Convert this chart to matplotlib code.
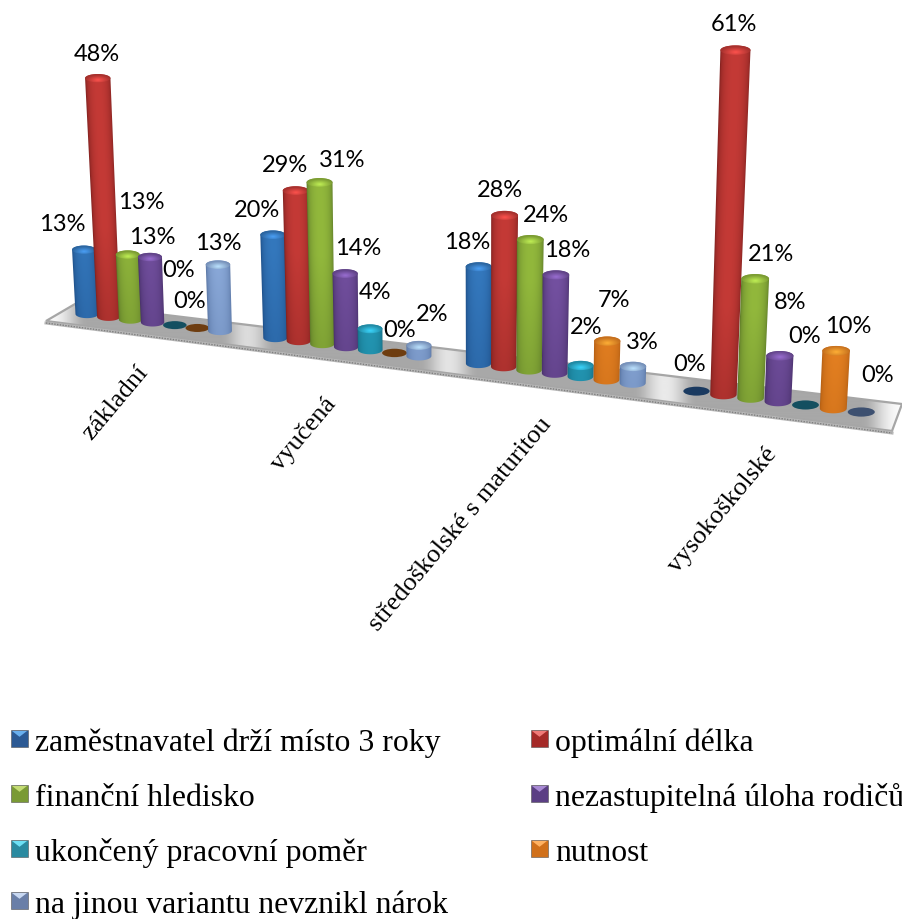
import numpy as np
import matplotlib
matplotlib.use("Agg")
import matplotlib.pyplot as plt
from matplotlib.patches import Polygon, Ellipse, Rectangle

categories = ["základní", "vyučená", "středoškolské s maturitou", "vysokoškolské"]
series_names = ["zaměstnavatel drží místo 3 roky", "optimální délka", "finanční hledisko",
                "nezastupitelná úloha rodičů", "ukončený pracovní poměr", "nutnost",
                "na jinou variantu nevznikl nárok"]

zamestnavatel = [13, 20, 18, 0]
optimalni = [48, 29, 28, 61]
financni = [13, 31, 24, 21]
nezastupitelna = [13, 14, 18, 8]
ukonceny = [0, 4, 2, 0]
nutnost = [0, 0, 7, 10]
jina = [13, 2, 3, 0]
values = [zamestnavatel, optimalni, financni, nezastupitelna, ukonceny, nutnost, jina]

# dark edge, light centre, flat colour for zero bars, legend body, legend highlight
colors = [
    ("#1d4d85", "#3478bd", "#1a3a60", "#2c5a94", "#6ab0ee"),
    ("#7c1f1d", "#c43a36", "#7c1f1d", "#a52a28", "#f07a78"),
    ("#587426", "#92b83c", "#587426", "#7a9a35", "#c4dc74"),
    ("#452e66", "#7350a0", "#452e66", "#5b3f84", "#a88ad4"),
    ("#14697f", "#27a3c2", "#144f60", "#2a8aa0", "#6de0f5"),
    ("#b05c12", "#ea8423", "#6e3d10", "#d0701a", "#ffb262"),
    ("#55719f", "#8eaddd", "#3d5070", "#6a7fa8", "#c8d8f2"),
]

# label offsets from the top of each bar, in pixels, one row per series
label_offsets = [
    [(-22, -26), (-16, -25), (-12, -25), (-7, -28)],
    [(-1, -25), (-11, -26), (-5, -26), (-2, -27)],
    [(14, -53), (23, -23), (16, -25), (16, -25)],
    [(2, -21), (13, -26), (11, -25), (10, -54)],
    [(4, -56), (5, -37), (5, -39), (-1, -69)],
    [(-8, -27), (5, -23), (7, -42), (12, -25)],
    [(0, -22), (13, -32), (9, -25), (16, -38)],
]
cat_label_ends = [(144, 369), (332, 401), (547, 421), (773, 451)]
legend_rows = [741, 796, 851, 903]
legend_cols = [11, 531]

GROUP_STEP = 8.4
W, H = 903, 920


def rgb(c):
    return np.array(matplotlib.colors.to_rgb(c))


def project(cat, ser, val):
    # fake perspective of the 3d chart: floor runs down to the right, bars fan out
    u = cat * GROUP_STEP + ser
    x = 87 + 21.54 * u + 0.105 * u ** 2
    y = 315 + (x - 87) * 0.1266
    r = (23 + 0.13 * u) * 0.5
    h = val * (4.97 + 0.0011 * (x - 109))
    tx = x + (x - 457) * 0.000131 * h
    return x, y, tx, y - h, r


fig = plt.figure(figsize=(W / 100, H / 100), dpi=100)
ax = fig.add_axes([0, 0, 1, 1])

# floor
floor_pts = [(46, 322), (75, 305), (902, 405), (892, 432)]
gx, gy = np.meshgrid(np.arange(40, 906), np.arange(300, 436))
gray = np.ones(gx.shape)
for c in range(4):
    x0 = project(c, 0, 0)[0]
    x1 = project(c, 6, 0)[0]
    d = np.maximum(0, np.maximum(x0 - gx, gx - x1))
    gray -= 0.34 * np.exp(-(d / 22.0) ** 2)
im = ax.imshow(gray, cmap="gray", vmin=0, vmax=1, extent=(40, 906, 436, 300), zorder=1)
floor = Polygon(floor_pts, closed=True, fc="none", ec="#a6a6a6", lw=1.6, zorder=2)
ax.add_patch(floor)
im.set_clip_path(floor)
ax.plot([46, 892], [324, 434], color="#b8b8b8", lw=2.2, zorder=2)
ax.plot([46, 892], [324, 434], color="#7f7f7f", lw=1.0, ls=(0, (1, 1)), zorder=2)


def draw_cylinder(x, y, tx, ty, r, dark, light, order):
    ry = r * 0.36
    rt = r * (1 + (y - ty) * 0.0004)
    pad = 3
    left, right = int(min(x - r, tx - rt)) - pad, int(max(x + r, tx + rt)) + pad
    top, bot = int(ty - ry) - pad, int(y + ry) + pad
    xs, ys = np.meshgrid(np.arange(left, right, 0.5), np.arange(top, bot, 0.5))
    f = np.clip((y - ys) / max(y - ty, 1), 0, 1)
    xc = x + (tx - x) * f
    rr = r + (rt - r) * f
    s = np.clip(1 - ((xs - xc) / rr) ** 2, 0, 1) ** 0.45
    vert = 0.7 + 0.3 * np.clip((y - ys) / 90.0, 0, 1)
    s = s * vert
    img = rgb(dark) + (rgb(light) - rgb(dark)) * s[..., None]

    # body outline with round bottom and top
    ang = np.linspace(0, np.pi, 30)
    bottom = np.c_[x + r * np.cos(ang), y + ry * np.sin(ang)]
    upper = np.c_[tx - rt * np.cos(ang), ty - ry * np.sin(ang)]
    body = Polygon(np.r_[bottom, upper], closed=True, fc="none", ec="none", zorder=order)
    ax.add_patch(body)
    b = ax.imshow(img, extent=(left, right, bot, top), zorder=order, interpolation="bilinear")
    b.set_clip_path(body)

    # cap, brighter towards its lower middle
    capd = np.sqrt(((xs - tx) / rt) ** 2 + ((ys - ty - ry * 0.35) / (ry * 1.2)) ** 2)
    cs = np.clip(1 - capd, 0, 1)
    base = rgb(light) * 0.84
    top_col = np.minimum(rgb(light) * 1.25 + 0.04, 1)
    cap_img = base + (top_col - base) * cs[..., None]
    cap = Ellipse((tx, ty), 2 * rt, 2 * ry, fc="none", ec="none", zorder=order + 0.1)
    ax.add_patch(cap)
    c = ax.imshow(cap_img, extent=(left, right, bot, top), zorder=order + 0.1, interpolation="bilinear")
    c.set_clip_path(cap)


for c in range(len(categories)):
    for s in range(len(series_names)):
        val = values[s][c]
        x, y, tx, ty, r = project(c, s, val)
        order = 3 + c * 7 + s
        if val == 0:
            ax.add_patch(Ellipse((x, y), 2 * r, 2 * r * 0.34, fc=colors[s][2], ec="none", zorder=order))
        else:
            draw_cylinder(x, y, tx, ty, r, colors[s][0], colors[s][1], order)
        dx, dy = label_offsets[s][c]
        ax.text(tx + dx, ty + dy, f"{val}%", fontsize=17, family="Lato", color="black",
                ha="center", va="center", zorder=60)

for name, (ex, ey) in zip(categories, cat_label_ends):
    ax.text(ex, ey, name, fontsize=19, family="Liberation Serif", rotation=50,
            rotation_mode="anchor", ha="right", va="center", zorder=60)

# legend
for i, name in enumerate(series_names):
    col = legend_cols[i % 2]
    row = legend_rows[i // 2]
    key_x, key_y, key = col, row - 10, 17
    body, hi = colors[i][3], colors[i][4]
    ax.add_patch(Rectangle((key_x, key_y), key, key, fc=body, ec="#555555", lw=0.4, zorder=60))
    ax.add_patch(Polygon([(key_x + 1, key_y + 1), (key_x + key - 1, key_y + 1), (key_x + key / 2, key_y + key * 0.4)],
                         closed=True, fc=hi, ec="none", zorder=61))
    ax.text(col + 24, row + 10, name, fontsize=22.9, family="Liberation Serif", ha="left", va="baseline", zorder=60)

ax.set_xlim(0, W)
ax.set_ylim(H, 0)
ax.set_aspect("auto")
ax.axis("off")
fig.savefig("out.png", dpi=100)
